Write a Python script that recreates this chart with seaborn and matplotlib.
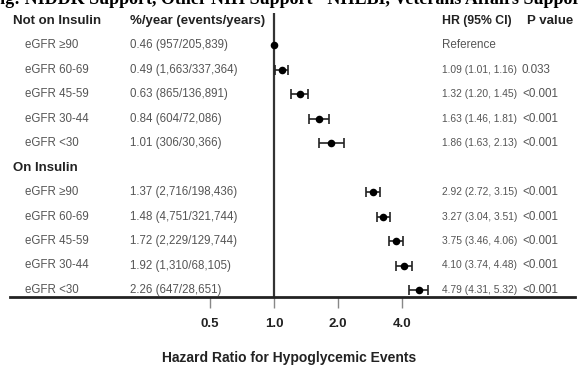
import matplotlib
matplotlib.use("Agg")
import matplotlib.pyplot as plt
import matplotlib.transforms as mtransforms
import seaborn as sns
import pandas as pd
import numpy as np

# rows of the forest plot (two groups, five eGFR strata each)
groups = ["Not on Insulin", "On Insulin"]
egfr_labels = ["eGFR \u226590", "eGFR 60-69", "eGFR 45-59", "eGFR 30-44", "eGFR <30"]
rate_text = [
    ["0.46 (957/205,839)", "0.49 (1,663/337,364)", "0.63 (865/136,891)",
     "0.84 (604/72,086)", "1.01 (306/30,366)"],
    ["1.37 (2,716/198,436)", "1.48 (4,751/321,744)", "1.72 (2,229/129,744)",
     "1.92 (1,310/68,105)", "2.26 (647/28,651)"],
]
hr = [[1.00, 1.09, 1.32, 1.63, 1.86], [2.92, 3.27, 3.75, 4.10, 4.79]]
hr_lo = [[1.00, 1.01, 1.20, 1.46, 1.63], [2.72, 3.04, 3.46, 3.74, 4.31]]
hr_hi = [[1.00, 1.16, 1.45, 1.81, 2.13], [3.15, 3.51, 4.06, 4.48, 5.32]]
p_values = [["", "0.033", "<0.001", "<0.001", "<0.001"],
            ["<0.001", "<0.001", "<0.001", "<0.001", "<0.001"]]
ticks = [0.5, 1.0, 2.0, 4.0]
xlabel = "Hazard Ratio for Hypoglycemic Events"

# build a table, one row per line in the figure
recs = []
row = 1
for g in range(2):
    for i in range(5):
        recs.append(dict(group=groups[g], label=egfr_labels[i], rate=rate_text[g][i],
                         hr=hr[g][i], lo=hr_lo[g][i], hi=hr_hi[g][i],
                         p=p_values[g][i], row=row))
        row += 1
    row += 1
df = pd.DataFrame(recs)

sns.set_style("white")
plt.rcParams["font.family"] = ["Liberation Sans", "DejaVu Sans"]

W, H = 580, 371
fig = plt.figure(figsize=(W / 100, H / 100), dpi=100)
ax = fig.add_axes([10 / W, 1 - 297 / H, 565 / W, (297 - 13) / H])

ax.set_xscale("log", base=2)
ax.set_xlim(2 ** (-264 / 64), 2 ** (301 / 64))
step = 24.45
ax.set_ylim((297 - 21) / step, (13 - 21) / step)

dark = "#222222"
grey = "#555555"

ax.axvline(1.0, color="#333333", lw=1.6, zorder=1)

ci = df[df["hi"] > df["lo"]]
ax.errorbar(ci["hr"], ci["row"], xerr=[ci["hr"] - ci["lo"], ci["hi"] - ci["hr"]],
            fmt="none", ecolor=dark, elinewidth=1.2, capsize=3.4, capthick=1.2, zorder=2)
sns.scatterplot(data=df, x="hr", y="row", ax=ax, color="black", s=30,
                edgecolor="black", linewidth=0, legend=False, zorder=3)

for s in ["top", "right", "left"]:
    ax.spines[s].set_visible(False)
ax.spines["bottom"].set_linewidth(2)
ax.spines["bottom"].set_color(dark)
ax.set_yticks([])
ax.set_xticks(ticks)
ax.set_xticklabels([f"{t:.1f}" for t in ticks], fontweight="bold", fontsize=9.5, color=dark)
ax.xaxis.set_minor_locator(matplotlib.ticker.NullLocator())
ax.tick_params(axis="x", direction="out", length=8, width=1, color="#888888",
               pad=7, bottom=True)
ax.set_xlabel("")
ax.set_ylabel("")

tr = mtransforms.blended_transform_factory(fig.transFigure, ax.transData)

def px(x):
    return x / W

# column headers
ax.text(px(13), 0, "Not on Insulin", transform=tr, fontweight="bold", fontsize=9.5,
        color=dark, va="center", clip_on=False)
ax.text(px(130), 0, "%/year (events/years)", transform=tr, fontweight="bold",
        fontsize=9.5, color=dark, va="center", clip_on=False)
ax.text(px(442), 0, "HR (95% CI)", transform=tr, fontweight="bold", fontsize=8.8,
        color=dark, va="center", clip_on=False)
ax.text(px(527), 0, "P value", transform=tr, fontweight="bold", fontsize=9.5,
        color=dark, va="center", clip_on=False)
ax.text(px(13), 6, "On Insulin", transform=tr, fontweight="bold", fontsize=9.5,
        color=dark, va="center", clip_on=False)

for _, r in df.iterrows():
    y = r["row"]
    ax.text(px(25), y, r["label"], transform=tr, fontsize=8.3, color=grey,
            va="center", clip_on=False)
    ax.text(px(130), y, r["rate"], transform=tr, fontsize=8.3, color=grey,
            va="center", clip_on=False)
    if r["hi"] > r["lo"]:
        ax.text(px(442), y, f"{r['hr']:.2f} ({r['lo']:.2f}, {r['hi']:.2f})",
                transform=tr, fontsize=7.4, color=grey, va="center", clip_on=False)
    else:
        ax.text(px(442), y, "Reference", transform=tr, fontsize=8.4, color=grey,
                va="center", clip_on=False)
    ax.text(px(522), y, r["p"], transform=tr, fontsize=8.4, color=grey,
            va="center", clip_on=False)

fig.text(289 / W, 1 - 358 / H, xlabel, ha="center", va="center",
         fontweight="bold", fontsize=10, color=dark)

# clipped caption line from the page above the figure
fig.text(-51 / W, 1 - 4 / H, "Funding: NIDDK Support, Other NIH Support - NHLBI, Veterans Affairs Support",
         family="Liberation Serif", fontweight="bold", fontsize=13, color="black",
         va="baseline", ha="left")

fig.savefig("out.png", dpi=100, facecolor="white")
